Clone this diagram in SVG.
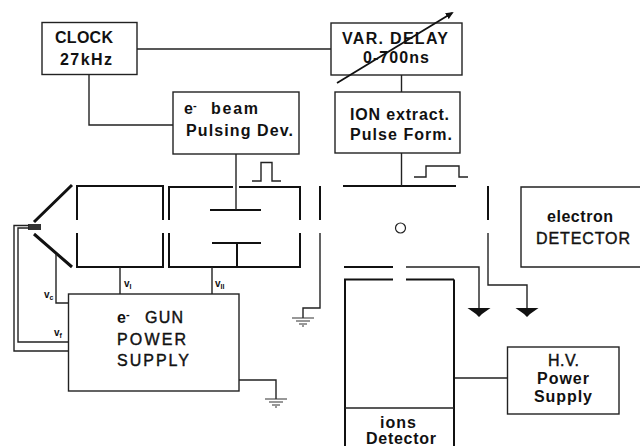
<svg xmlns="http://www.w3.org/2000/svg" width="640" height="446" viewBox="0 0 640 446">
<style>
.b{fill:#fff;stroke:#222;stroke-width:1.4}
.w{fill:none;stroke:#222;stroke-width:1.4}
.t{fill:none;stroke:#111;stroke-width:2}
.h{fill:none;stroke:#111;stroke-width:3}
.g{fill:none;stroke:#333;stroke-width:1.2}
text{font-family:"Liberation Sans",Arial,sans-serif;font-weight:bold;font-size:16px;fill:#111}
.r{font-weight:normal;stroke:#111;stroke-width:0.400}
.s{font-size:10px}
.u{font-size:7px}
</style>
<defs>
<g id="gnd"><path class="g" d="M-11 0H11M-7 3H7M-4 6H4M-1 8H1"/></g>
<g id="fgnd"><path d="M-11.500 0H11.500L3 6L0 9L-3 6Z" fill="#111"/></g>
<marker id="ah" markerUnits="userSpaceOnUse" markerWidth="9" markerHeight="8" refX="6" refY="4" orient="auto"><path d="M0 0.500L8 4L0 7.500Z" fill="#111"/></marker>
</defs>
<g id="clock"><rect class="b" x="42" y="22.500" width="95" height="52"/><text x="55" y="43" textLength="58">CLOCK</text><text x="60" y="65" textLength="52">27kHz</text></g>
<g id="var-delay"><rect class="b" x="331" y="23" width="131" height="52"/><text x="342" y="44" textLength="106">VAR. DELAY</text><text x="363" y="63" textLength="66">0-700ns</text></g>
<g id="pulsing"><rect class="b" x="173" y="92" width="126" height="62"/><text x="184" y="114">e<tspan font-size="11" dy="-5">-</tspan></text><text x="211" y="114" textLength="47">beam</text><text x="186" y="136" textLength="107">Pulsing Dev.</text></g>
<g id="ion-extract"><rect class="b" x="335" y="92" width="125" height="61"/><text x="350" y="120" textLength="99">ION extract.</text><text x="350" y="140" textLength="102">Pulse Form.</text></g>
<g id="cylinder-1"><path class="t" d="M77 220V186H163V220M77 233V267H163V233"/></g>
<g id="cylinder-2"><path class="t" d="M169 220V187H233M239 187H300V220M169 233V267H300V233"/><path class="t" d="M210 210H261M212 243H261M237 243V267"/></g>
<g id="filament"><path class="h" d="M72 185L34 222M34 234L72 267"/><rect x="28" y="224" width="13" height="6" fill="#333"/></g>
<g id="chamber"><path class="t" d="M320 186V220M488 186V220M343 186H456M344 267H393M344 279.500H393M406 279.500H454"/><circle cx="400.500" cy="228" r="5" fill="none" stroke="#222" stroke-width="1.200"/></g>
<g id="ions-detector"><path class="t" d="M345 279.500V446M454 279.500V446"/><path class="w" d="M345 408H454"/><text x="380" y="428" textLength="36">ions</text><text x="366" y="444" textLength="70" font-size="15">Detector</text></g>
<g id="electron-detector"><path class="b" d="M640 187H521V267H640"/><text x="547" y="222" textLength="66">electron</text><text class="r" x="536" y="244" textLength="94">DETECTOR</text></g>
<g id="hv-supply"><rect class="b" x="507.500" y="347" width="111.500" height="67"/><text class="r" x="548" y="366" textLength="31">H.V.</text><text x="537" y="384" textLength="52">Power</text><text x="534" y="402" textLength="58">Supply</text></g>
<g id="gun-supply"><rect class="b" x="68.500" y="294" width="170.500" height="97"/><text x="117" y="323">e<tspan font-size="11" dy="-5">-</tspan></text><text class="r" x="145" y="323" textLength="38">GUN</text><text class="r" x="117" y="345" textLength="69">POWER</text><text class="r" x="117" y="366" textLength="72">SUPPLY</text></g>
<g id="connectors">
<path class="w" d="M137 49H331M89 75V125H173M236 154V210M401.500 75V92M401.500 153V186"/>
<path class="w" d="M120 267V294M212 267V294M56 254V303H68M29 228H18V342H68M29 225.500H14V351H68"/>
<path class="w" d="M239 380H276V399M320 233V308H303V318M406 267H479V308M488 233V285H527V308M455 378H507"/>
<path class="w" d="M414 177H426V166H459V177H468M252 181H261V162.500H272V181H281"/>
<path d="M337 83L452 13" fill="none" stroke="#111" stroke-width="1.800" marker-end="url(#ah)"/>
</g>
<g id="grounds"><use href="#gnd" x="276" y="399"/><use href="#gnd" x="303" y="318"/><use href="#fgnd" x="479" y="308"/><use href="#fgnd" x="527" y="308"/></g>
<g id="labels"><text class="s" x="44" y="298">v<tspan class="u" dy="2">c</tspan></text><text class="s" x="54" y="336">v<tspan class="u" dy="2">f</tspan></text><text class="s" x="124" y="287">v<tspan class="u" dy="2">I</tspan></text><text class="s" x="215" y="287">v<tspan class="u" dy="2">II</tspan></text></g>
</svg>
